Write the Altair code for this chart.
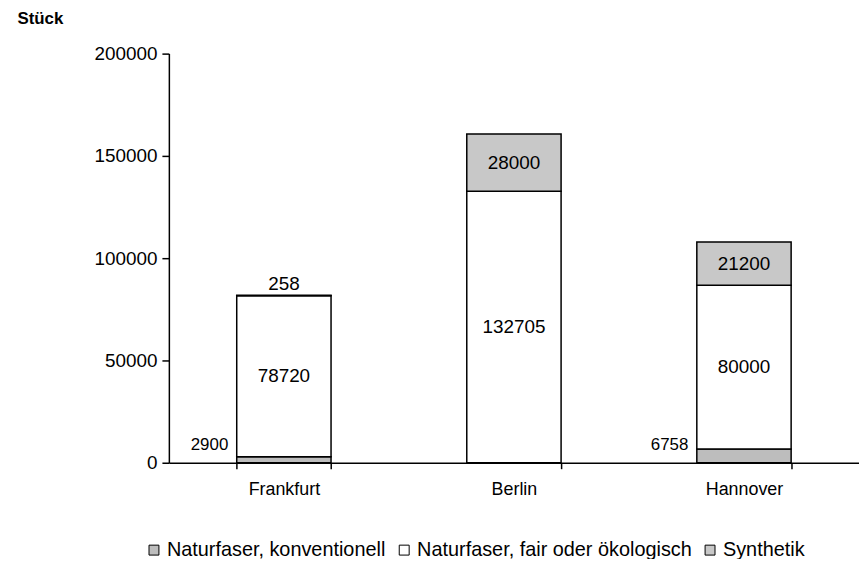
import altair as alt
import pandas as pd

cities = ["Frankfurt", "Berlin", "Hannover"]
series = ["Naturfaser, konventionell", "Naturfaser, fair oder ökologisch", "Synthetik"]
konventionell = [2900, 0, 6758]
fair_oeko = [78720, 132705, 80000]
synthetik = [258, 28000, 21200]
colors = ["#bdbdbd", "#ffffff", "#c8c8c8"]

rows = []
for i, c in enumerate(cities):
    for j, (s, vals) in enumerate(zip(series, [konventionell, fair_oeko, synthetik])):
        rows.append({"Stadt": c, "Art": s, "Wert": vals[i], "ord": j})
df = pd.DataFrame(rows)

# label positions derived from stacked values
center_rows, above_rows, left_rows = [], [], []
for i, c in enumerate(cities):
    k, f, s = konventionell[i], fair_oeko[i], synthetik[i]
    if k > 0:
        left_rows.append({"Stadt": c, "y": 0, "label": str(k)})
    center_rows.append({"Stadt": c, "y": k + f / 2, "label": str(f)})
    if s > 5000:
        center_rows.append({"Stadt": c, "y": k + f + s / 2, "label": str(s)})
    else:
        above_rows.append({"Stadt": c, "y": k + f + s, "label": str(s)})

FONT = "Liberation Sans"
FS = 19

xenc = alt.X("Stadt:N", sort=cities,
             scale=alt.Scale(paddingInner=0.59, paddingOuter=0.295),
             axis=alt.Axis(title=None, labelAngle=0, labelFontSize=FS - 1, labelFont=FONT,
                           labelColor="#000", tickBand="extent", tickSize=6,
                           tickColor="#000", domainColor="#000", domainWidth=1.5,
                           tickWidth=1.5, labelPadding=12))

bars = alt.Chart(df).mark_bar(stroke="#000", strokeWidth=1.5).encode(
    x=xenc,
    y=alt.Y("Wert:Q", stack="zero",
            scale=alt.Scale(domain=[0, 200000]),
            axis=alt.Axis(values=[0, 50000, 100000, 150000, 200000], format="d",
                          grid=False, labelFontSize=FS, labelFont=FONT, labelColor="#000",
                          tickColor="#000", domainColor="#000", domainWidth=1.5,
                          tickWidth=1.5, tickSize=7, labelPadding=5,
                          title="Stück", titleAngle=0, titleFontWeight="bold",
                          titleFont=FONT, titleFontSize=17, titleColor="#000",
                          titleX=-153, titleY=-26, titleAlign="left", titleBaseline="bottom")),
    fill=alt.Fill("Art:N", sort=series,
                  scale=alt.Scale(domain=series, range=colors),
                  legend=alt.Legend(title=None, orient="none", direction="horizontal",
                                    legendX=-25, legendY=490, columns=3,
                                    symbolType="square", symbolSize=100,
                                    symbolStrokeColor="#000", symbolStrokeWidth=1,
                                    labelFontSize=20, labelFont=FONT, labelColor="#000",
                                    labelOffset=3, columnPadding=8, labelLimit=400)),
    order=alt.Order("ord:Q"),
)

center = alt.Chart(pd.DataFrame(center_rows)).mark_text(
    font=FONT, fontSize=FS, color="#000", baseline="middle"
).encode(x=alt.X("Stadt:N", sort=cities), y="y:Q", text="label:N")

above = alt.Chart(pd.DataFrame(above_rows)).mark_text(
    font=FONT, fontSize=FS, color="#000", baseline="bottom", dy=-1
).encode(x=alt.X("Stadt:N", sort=cities), y="y:Q", text="label:N")

left = alt.Chart(pd.DataFrame(left_rows)).mark_text(
    font=FONT, fontSize=FS - 2, color="#000", baseline="middle", align="right", dx=-56, dy=-18
).encode(x=alt.X("Stadt:N", sort=cities), y="y:Q", text="label:N")

chart = alt.layer(bars, center, above, left).properties(
    width=695, height=412,
    padding={"left": 162, "top": 44, "right": 0, "bottom": 95},
    autosize=alt.AutoSizeParams(type="none"),
).configure(background="#ffffff").configure_view(stroke=None)

chart.save("out.html", embed_options={"renderer": "svg", "actions": False})
